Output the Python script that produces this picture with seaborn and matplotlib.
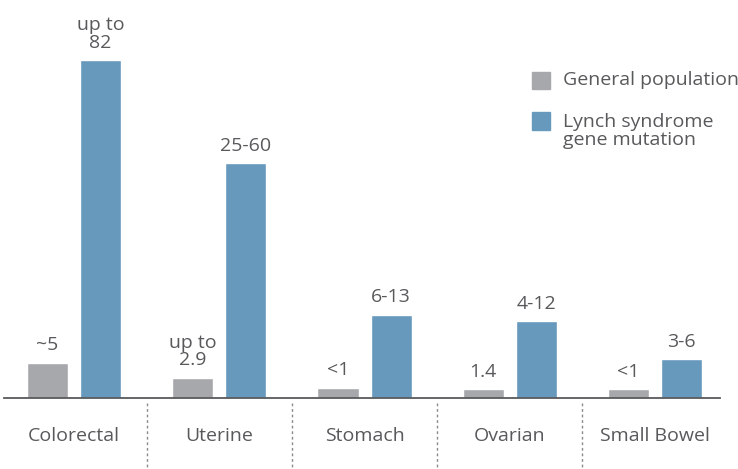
import matplotlib
matplotlib.use('Agg')
import pandas as pd
import matplotlib.pyplot as plt
import seaborn as sns
from matplotlib.patches import Rectangle

# values (bar heights), with the printed labels
cancers = ['Colorectal', 'Uterine', 'Stomach', 'Ovarian', 'Small Bowel']
groups = ['General population', 'Lynch syndrome\ngene mutation']
general_risk = [8.6, 4.9, 2.5, 2.2, 2.2]
lynch_risk = [82, 57, 20.2, 18.7, 9.5]
general_labels = ['~5', 'up to\n2.9', '<1', '1.4', '<1']
lynch_labels = ['up to\n82', '25-60', '6-13', '4-12', '3-6']

GRAY = '#a7a8ab'
BLUE = '#6799bd'
TEXT = '#58595b'
FS = 14

df = pd.DataFrame({
    'Cancer': cancers * 2,
    'Risk': general_risk + lynch_risk,
    'Group': [groups[0]] * len(cancers) + [groups[1]] * len(cancers),
})

sns.set_style('white')
plt.rcParams['font.family'] = ['Open Sans', 'DejaVu Sans']

W, H = 738, 469
fig = plt.figure(figsize=(W / 100, H / 100), dpi=100)
ax = fig.add_axes([4 / W, 71 / H, 716 / W, 398 / H])

sns.barplot(data=df, x='Cancer', y='Risk', hue='Group', hue_order=groups,
            palette=[GRAY, BLUE], saturation=1, width=0.731, gap=0.226,
            errorbar=None, legend=False, ax=ax)

# value labels above bars
for cont, labels in zip(ax.containers, [general_labels, lynch_labels]):
    ax.bar_label(cont, labels=labels, padding=6, fontsize=FS, color=TEXT,
                 linespacing=0.98)

ax.set_xlim(-0.482, 4.447)
ax.set_ylim(0, 96.55)
ax.set_xlabel('')
ax.set_ylabel('')
ax.set_yticks([])
ax.tick_params(axis='x', length=0, pad=21, labelsize=FS, labelcolor=TEXT)
for side in ['top', 'right', 'left']:
    ax.spines[side].set_visible(False)
ax.spines['bottom'].set_color('#58595b')
ax.spines['bottom'].set_linewidth(1.3)

# dotted dividers between categories
for i in range(len(cancers) - 1):
    ax.plot([i + 0.5, i + 0.5], [-0.013, -0.18], transform=ax.get_xaxis_transform(),
            clip_on=False, color='#8a8a8a', lw=1, ls=(0, (2, 2)))

# legend drawn by hand
fig.add_artist(Rectangle((532 / W, (H - 89) / H), 18 / W, 17 / H,
                         transform=fig.transFigure, color=GRAY))
fig.add_artist(Rectangle((532 / W, (H - 130) / H), 18 / W, 18 / H,
                         transform=fig.transFigure, color=BLUE))
fig.text(563 / W, (H - 80) / H, groups[0], fontsize=FS, color=TEXT, va='center')
fig.text(563 / W, (H - 131) / H, groups[1], fontsize=FS, color=TEXT, va='center',
         linespacing=0.98)

fig.savefig('out.png', dpi=100)
